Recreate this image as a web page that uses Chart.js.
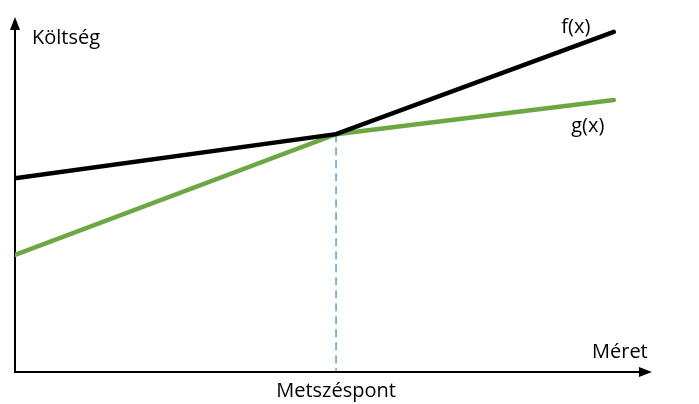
<!DOCTYPE html>
<html>
<head>
<meta charset="utf-8">
<script src="https://cdn.jsdelivr.net/npm/chart.js@4/dist/chart.umd.min.js"></script>
<style>
  html, body { margin: 0; padding: 0; background: #fff; }
  #wrap { width: 699px; height: 404px; }
</style>
</head>
<body>
<div id="wrap"><canvas id="grafico"></canvas></div>
<script>
// pontok (x: méret, y: költség) – tetszőleges egységek 0..100
const xPontok = [0, 50.4, 94];
const fErtekek = [54.6, 67.0, 95.8];
const gErtekek = [33.0, 67.0, 76.6];
const metszesX = 50.4;
const metszesY = 67.0;

const feliratok = {
    y: 'Költség',
    x: 'Méret',
    metszes: 'Metszéspont',
    f: 'f(x)',
    g: 'g(x)'
};

function pontok(ys) {
    var lista = [];
    for (var i = 0; i < xPontok.length; i++) {
        lista.push({ x: xPontok[i], y: ys[i] });
    }
    return lista;
}

// tengelyek nyíllal + feliratok
const tengelyek = {
    id: 'tengelyek',
    beforeDatasetsDraw(chart) {
        const { ctx, chartArea: { top, right, bottom, left }, scales: { x, y } } = chart;
        ctx.save();
        ctx.strokeStyle = '#000';
        ctx.fillStyle = '#000';
        ctx.lineWidth = 2;

        // függőleges
        ctx.beginPath();
        ctx.moveTo(left, bottom + 1);
        ctx.lineTo(left, top + 10);
        ctx.stroke();
        ctx.beginPath();
        ctx.moveTo(left, top);
        ctx.lineTo(left - 5, top + 13);
        ctx.lineTo(left + 5, top + 13);
        ctx.closePath();
        ctx.fill();

        // vízszintes
        ctx.beginPath();
        ctx.moveTo(left - 1, bottom);
        ctx.lineTo(right - 10, bottom);
        ctx.stroke();
        ctx.beginPath();
        ctx.moveTo(right, bottom);
        ctx.lineTo(right - 13, bottom - 5);
        ctx.lineTo(right - 13, bottom + 5);
        ctx.closePath();
        ctx.fill();

        // szaggatott vonal a metszéspontnál
        ctx.strokeStyle = '#5B9BD5';
        ctx.lineWidth = 1.5;
        ctx.setLineDash([8, 5]);
        ctx.beginPath();
        ctx.moveTo(x.getPixelForValue(metszesX), y.getPixelForValue(metszesY));
        ctx.lineTo(x.getPixelForValue(metszesX), bottom - 1);
        ctx.stroke();
        ctx.setLineDash([]);

        ctx.font = '20px "Open Sans", sans-serif';
        ctx.fillStyle = '#000';
        ctx.textBaseline = 'middle';
        ctx.textAlign = 'left';
        ctx.fillText(feliratok.y, left + 17, top + 21);
        ctx.fillText(feliratok.x, right - 60, bottom - 20);
        ctx.textAlign = 'center';
        ctx.fillText(feliratok.metszes, x.getPixelForValue(metszesX), bottom + 19);
        ctx.fillText(feliratok.f, x.getPixelForValue(xPontok[2]) - 38, y.getPixelForValue(fErtekek[2]) - 5);
        ctx.fillText(feliratok.g, x.getPixelForValue(xPontok[2]) - 26, y.getPixelForValue(gErtekek[2]) + 26);
        ctx.restore();
    }
};

new Chart(document.getElementById('grafico'), {
    type: 'scatter',
    data: {
        datasets: [
            {
                label: 'f(x)',
                data: pontok(fErtekek),
                showLine: true,
                borderColor: '#000000',
                borderWidth: 4.5,
                pointRadius: 0,
                borderCapStyle: 'round'
            },
            {
                label: 'g(x)',
                data: pontok(gErtekek),
                showLine: true,
                borderColor: '#6BA844',
                borderWidth: 4.5,
                pointRadius: 0,
                borderCapStyle: 'round'
            }
        ]
    },
    options: {
        responsive: true,
        maintainAspectRatio: false,
        animation: false,
        layout: { padding: { left: 15, right: 47, top: 17, bottom: 32 } },
        plugins: { legend: { display: false }, tooltip: { enabled: false } },
        scales: {
            x: { type: 'linear', min: 0, max: 100, display: false },
            y: { type: 'linear', min: 0, max: 100, display: false }
        }
    },
    plugins: [tengelyek]
});
</script>
</body>
</html>
